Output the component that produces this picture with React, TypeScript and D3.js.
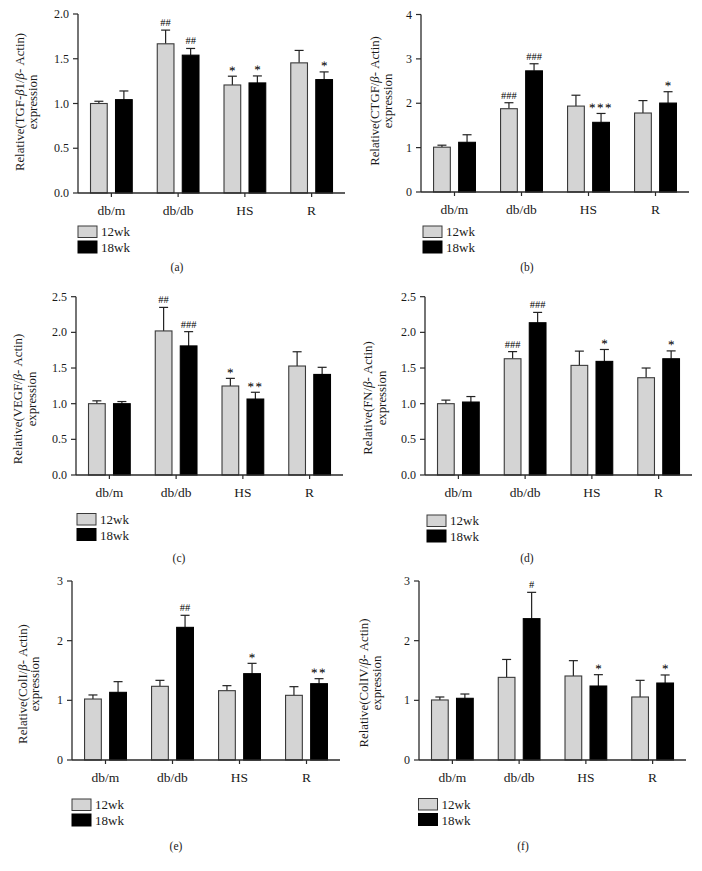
import React from "react";
import * as d3 from "d3";

const categories = ["db/m", "db/db", "HS", "R"];
const seriesNames = ["12wk", "18wk"];

// (a) TGF-β1
const tgf12 = [1.0, 1.667, 1.207, 1.454];
const tgf12Err = [0.025, 0.153, 0.098, 0.139];
const tgf18 = [1.043, 1.54, 1.23, 1.267];
const tgf18Err = [0.097, 0.075, 0.078, 0.086];
const tgf12Sig = ["", "##", "*", ""];
const tgf18Sig = ["", "##", "*", "*"];

// (b) CTGF
const ctgf12 = [1.01, 1.877, 1.936, 1.78];
const ctgf12Err = [0.045, 0.135, 0.245, 0.28];
const ctgf18 = [1.12, 2.73, 1.57, 2.004];
const ctgf18Err = [0.17, 0.16, 0.2, 0.256];
const ctgf12Sig = ["", "###", "", ""];
const ctgf18Sig = ["", "###", "***", "*"];

// (c) VEGF
const vegf12 = [1.0, 2.02, 1.248, 1.528];
const vegf12Err = [0.04, 0.33, 0.107, 0.2];
const vegf18 = [1.0, 1.81, 1.065, 1.41];
const vegf18Err = [0.03, 0.2, 0.095, 0.1];
const vegf12Sig = ["", "##", "*", ""];
const vegf18Sig = ["", "###", "**", ""];

// (d) FN
const fn12 = [1.0, 1.63, 1.537, 1.364];
const fn12Err = [0.05, 0.1, 0.2, 0.136];
const fn18 = [1.023, 2.135, 1.593, 1.63];
const fn18Err = [0.077, 0.145, 0.167, 0.11];
const fn12Sig = ["", "###", "", ""];
const fn18Sig = ["", "###", "*", "*"];

// (e) ColI
const col1_12 = [1.022, 1.235, 1.162, 1.084];
const col1_12Err = [0.068, 0.1, 0.084, 0.145];
const col1_18 = [1.134, 2.223, 1.447, 1.279];
const col1_18Err = [0.179, 0.202, 0.173, 0.084];
const col1_12Sig = ["", "", "", ""];
const col1_18Sig = ["", "##", "*", "**"];

// (f) ColIV
const col4_12 = [1.006, 1.385, 1.408, 1.056];
const col4_12Err = [0.05, 0.3, 0.257, 0.279];
const col4_18 = [1.034, 2.369, 1.24, 1.29];
const col4_18Err = [0.072, 0.441, 0.19, 0.135];
const col4_12Sig = ["", "", "", ""];
const col4_18Sig = ["", "#", "*", "*"];

const ticksHalf = [0, 0.5, 1.0, 1.5, 2.0];
const ticksHalf25 = [0, 0.5, 1.0, 1.5, 2.0, 2.5];
const ticks4 = [0, 1, 2, 3, 4];
const ticks3 = [0, 1, 2, 3];

const FONT = "'Liberation Serif', 'DejaVu Serif', 'Times New Roman', serif";
const GRAY = "#d4d4d4";
const AXIS = "#2a2a2a";
const TEXT = "#1a1a1a";

type Panel = {
  gene: string;
  caption: string;
  v12: number[];
  e12: number[];
  v18: number[];
  e18: number[];
  s12: string[];
  s18: string[];
  ticks: number[];
  fmt: string;
  max: number;
  left: number;
  right: number;
  zero: number;
  top: number;
  lab1x: number;
  lab2x: number;
  labY: number;
  legX: number;
  legY: number;
  capX: number;
  capY: number;
};

const panels: Panel[] = [
  {
    gene: "TGF-", caption: "(a)",
    v12: tgf12, e12: tgf12Err, v18: tgf18, e18: tgf18Err, s12: tgf12Sig, s18: tgf18Sig,
    ticks: ticksHalf, fmt: ".1f", max: 2.0,
    left: 78, right: 345, zero: 193, top: 14,
    lab1x: 20, lab2x: 33, labY: 102,
    legX: 78, legY: 226, capX: 177, capY: 271,
  },
  {
    gene: "CTGF", caption: "(b)",
    v12: ctgf12, e12: ctgf12Err, v18: ctgf18, e18: ctgf18Err, s12: ctgf12Sig, s18: ctgf18Sig,
    ticks: ticks4, fmt: "d", max: 4,
    left: 421, right: 689, zero: 192, top: 14.5,
    lab1x: 375, lab2x: 388, labY: 101,
    legX: 423, legY: 226, capX: 527, capY: 271,
  },
  {
    gene: "VEGF", caption: "(c)",
    v12: vegf12, e12: vegf12Err, v18: vegf18, e18: vegf18Err, s12: vegf12Sig, s18: vegf18Sig,
    ticks: ticksHalf25, fmt: ".1f", max: 2.5,
    left: 76, right: 343, zero: 475, top: 296.7,
    lab1x: 18, lab2x: 32, labY: 399,
    legX: 77, legY: 513.5, capX: 179, capY: 562,
  },
  {
    gene: "FN", caption: "(d)",
    v12: fn12, e12: fn12Err, v18: fn18, e18: fn18Err, s12: fn12Sig, s18: fn18Sig,
    ticks: ticksHalf25, fmt: ".1f", max: 2.5,
    left: 425, right: 692, zero: 475, top: 296.7,
    lab1x: 368, lab2x: 382, labY: 398,
    legX: 427, legY: 515, capX: 527, capY: 562,
  },
  {
    gene: "ColI", caption: "(e)",
    v12: col1_12, e12: col1_12Err, v18: col1_18, e18: col1_18Err, s12: col1_12Sig, s18: col1_18Sig,
    ticks: ticks3, fmt: "d", max: 3,
    left: 72, right: 340, zero: 760, top: 581,
    lab1x: 23, lab2x: 35, labY: 684,
    legX: 72, legY: 799, capX: 176, capY: 850,
  },
  {
    gene: "ColIV", caption: "(f)",
    v12: col4_12, e12: col4_12Err, v18: col4_18, e18: col4_18Err, s12: col4_12Sig, s18: col4_18Sig,
    ticks: ticks3, fmt: "d", max: 3,
    left: 419, right: 686, zero: 760, top: 581,
    lab1x: 364, lab2x: 377, labY: 683,
    legX: 418.5, legY: 798.5, capX: 523, capY: 850,
  },
];

function YLabel({ p }: { p: Panel }) {
  const isTGF = p.gene === "TGF-";
  return (
    <g>
      <text
        transform={`translate(${p.lab1x},${p.labY}) rotate(-90)`}
        textAnchor="middle"
        dominantBaseline="central"
        fontSize={12.8}
        fill={TEXT}
      >
        <tspan>Relative({p.gene}</tspan>
        {isTGF ? <tspan fontStyle="italic">β</tspan> : null}
        {isTGF ? <tspan>1/</tspan> : <tspan>/</tspan>}
        <tspan fontStyle="italic">β</tspan>
        <tspan>- Actin)</tspan>
      </text>
      <text
        transform={`translate(${p.lab2x},${p.labY}) rotate(-90)`}
        textAnchor="middle"
        dominantBaseline="central"
        fontSize={12.8}
        fill={TEXT}
      >
        expression
      </text>
    </g>
  );
}

function PanelChart({ p }: { p: Panel }) {
  const x = d3.scaleBand<string>().domain(categories).range([p.left, p.right]);
  const sub = d3
    .scaleBand<string>()
    .domain(seriesNames)
    .range([0, x.bandwidth()])
    .paddingInner(0.332)
    .paddingOuter(0.5);
  const y = d3.scaleLinear().domain([0, p.max]).range([p.zero, p.top]);
  const fmt = d3.format(p.fmt);
  const bw = sub.bandwidth();

  const series = [
    { name: "12wk", vals: p.v12, errs: p.e12, sig: p.s12, fill: GRAY, stroke: "#3a3a3a" },
    { name: "18wk", vals: p.v18, errs: p.e18, sig: p.s18, fill: "#000", stroke: "#000" },
  ];

  return (
    <g fontFamily={FONT}>
      {series.map((s) =>
        categories.map((c, i) => {
          const bx = (x(c) as number) + (sub(s.name) as number);
          const cx = bx + bw / 2;
          const yTop = y(s.vals[i]);
          const yErr = y(s.vals[i] + s.errs[i]);
          const isStar = s.sig[i].startsWith("*");
          return (
            <g key={s.name + c}>
              <line x1={cx} x2={cx} y1={yTop} y2={yErr} stroke="#222" strokeWidth={1.2} />
              <line x1={cx - 4.5} x2={cx + 4.5} y1={yErr} y2={yErr} stroke="#222" strokeWidth={1.2} />
              <rect
                x={bx}
                y={yTop}
                width={bw}
                height={p.zero - yTop}
                fill={s.fill}
                stroke={s.stroke}
                strokeWidth={1.1}
              />
              {s.sig[i] ? (
                <text
                  x={cx}
                  y={yErr - (isStar ? 1.5 : 4)}
                  textAnchor="middle"
                  fontFamily="'Liberation Serif', serif"
                  fontSize={isStar ? 13 : 10.5}
                  letterSpacing={isStar && s.sig[i].length > 1 ? 1.5 : 0}
                  fill="#000"
                  textRendering="geometricPrecision"
                >
                  {s.sig[i]}
                </text>
              ) : null}
            </g>
          );
        })
      )}
      {/* y axis */}
      <line x1={p.left} x2={p.left} y1={p.zero} y2={p.top} stroke={AXIS} strokeWidth={1.3} />
      {p.ticks.map((t) => (
        <g key={"yt" + t}>
          <line x1={p.left - 5} x2={p.left} y1={y(t)} y2={y(t)} stroke={AXIS} strokeWidth={1.2} />
          <text
            x={p.left - 9}
            y={y(t)}
            textAnchor="end"
            dominantBaseline="central"
            fontSize={12}
            fill={TEXT}
          >
            {fmt(t)}
          </text>
        </g>
      ))}
      {/* x axis */}
      <line x1={p.left} x2={p.right} y1={p.zero} y2={p.zero} stroke={AXIS} strokeWidth={1.3} />
      {categories.map((c) => {
        const cx = (x(c) as number) + x.bandwidth() / 2;
        return (
          <g key={"xt" + c}>
            <line x1={cx} x2={cx} y1={p.zero} y2={p.zero + 4} stroke={AXIS} strokeWidth={1.2} />
            <text x={cx} y={p.zero + 22} textAnchor="middle" fontSize={13.5} fill={TEXT}>
              {c}
            </text>
          </g>
        );
      })}
      <YLabel p={p} />
      {/* legend */}
      <rect x={p.legX} y={p.legY} width={19} height={11.5} fill={GRAY} stroke="#3a3a3a" strokeWidth={1} />
      <text x={p.legX + 23} y={p.legY + 10} fontSize={13} fill={TEXT}>
        {seriesNames[0]}
      </text>
      <rect x={p.legX} y={p.legY + 15} width={19} height={12} fill="#000" stroke="#000" strokeWidth={1} />
      <text x={p.legX + 23} y={p.legY + 26} fontSize={13} fill={TEXT}>
        {seriesNames[1]}
      </text>
      {/* caption */}
      <text x={p.capX} y={p.capY} textAnchor="middle" fontSize={11.5} fill={TEXT}>
        {p.caption}
      </text>
    </g>
  );
}

export default function App() {
  return (
    <svg
      width={702}
      height={871}
      viewBox="0 0 702 871"
      style={{ position: "absolute", left: 0, top: 0, background: "#fff" }}
    >
      <rect x={0} y={0} width={702} height={871} fill="#fff" />
      {panels.map((p) => (
        <PanelChart key={p.caption} p={p} />
      ))}
    </svg>
  );
}
